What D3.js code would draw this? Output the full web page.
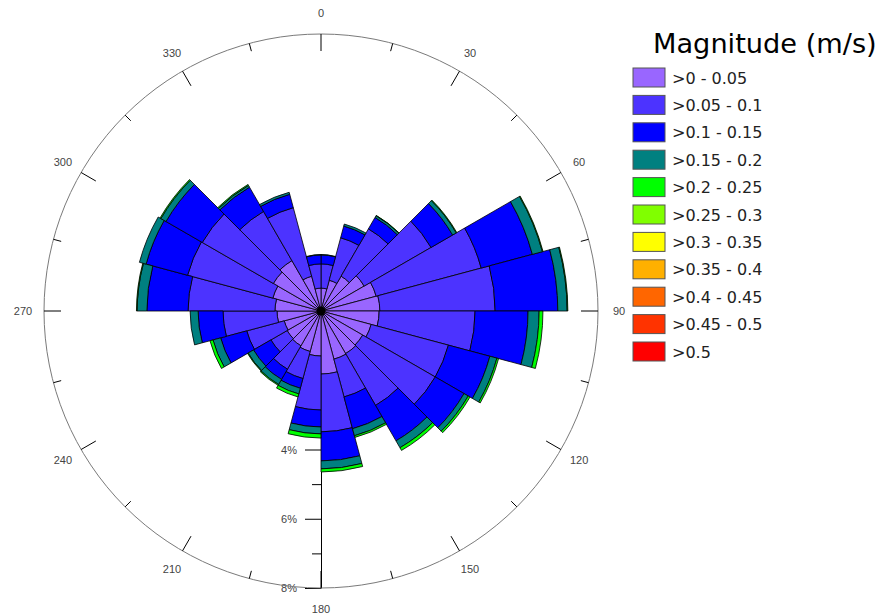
<!DOCTYPE html>
<html>
<head>
<meta charset="utf-8">
<script src="https://cdn.jsdelivr.net/npm/d3@7"></script>
<style>
  body { margin: 0; background: #fff; }
  svg text { font-family: "Liberation Sans", Arial, sans-serif; }
</style>
</head>
<body>
<svg id="rose"></svg>
<script>
// sector start angles (deg clockwise from north), each sector 15 deg wide
const directions = [0, 15, 30, 45, 60, 75, 90, 105, 120, 135, 150, 165,
                    180, 195, 210, 225, 240, 255, 270, 285, 300, 315, 330, 345];

// frequency (%) per magnitude class and direction
const bin1 = [0.66, 0.92, 1.16, 1.44, 1.65, 1.70, 1.68, 1.50, 1.39, 1.42, 1.44, 1.82,
              1.30, 1.21, 1.16, 1.13, 1.10, 1.27, 1.33, 1.44, 1.59, 1.68, 1.04, 0.66];
const bin2 = [0.70, 1.27, 1.58, 2.23, 3.14, 3.33, 2.77, 2.31, 2.42, 1.73, 1.13, 1.67,
              1.56, 0.81, 0.78, 0.54, 1.12, 1.56, 2.51, 2.55, 2.37, 1.64, 2.05, 0.70];
const bin3 = [0.26, 0.35, 0.38, 0.72, 1.53, 1.81, 1.53, 1.24, 0.96, 1.18, 0.95, 0.84,
              0.49, 0.29, 0.34, 0.58, 0.78, 0.72, 1.19, 1.24, 1.21, 0.81, 0.40, 0.26];
const bin4 = [0.01, 0.06, 0.06, 0.12, 0.30, 0.27, 0.32, 0.21, 0.14, 0.23, 0.21, 0.23,
              0.20, 0.17, 0.17, 0.18, 0.23, 0.23, 0.28, 0.20, 0.17, 0.06, 0.06, 0.01];
const bin5 = [0, 0, 0.01, 0.02, 0.02, 0.02, 0.11, 0.05, 0.06, 0.09, 0.05, 0.09,
              0.12, 0.09, 0.03, 0.02, 0.09, 0, 0.02, 0, 0.03, 0.03, 0, 0];
const bin6 = [0, 0, 0, 0, 0, 0, 0, 0, 0, 0, 0, 0, 0, 0, 0, 0, 0, 0, 0, 0, 0, 0, 0, 0];
const bin7 = [0, 0, 0, 0, 0, 0, 0, 0, 0, 0, 0, 0, 0, 0, 0, 0, 0, 0, 0, 0, 0, 0, 0, 0];
const bin8 = [0, 0, 0, 0, 0, 0, 0, 0, 0, 0, 0, 0, 0, 0, 0, 0, 0, 0, 0, 0, 0, 0, 0, 0];
const bin9 = [0, 0, 0, 0, 0, 0, 0, 0, 0, 0, 0, 0, 0, 0, 0, 0, 0, 0, 0, 0, 0, 0, 0, 0];
const bin10 = [0, 0, 0, 0, 0, 0, 0, 0, 0, 0, 0, 0, 0, 0, 0, 0, 0, 0, 0, 0, 0, 0, 0, 0];
const bin11 = [0, 0, 0, 0, 0, 0, 0, 0, 0, 0, 0, 0, 0, 0, 0, 0, 0, 0, 0, 0, 0, 0, 0, 0];

const binLabels = ['>0 - 0.05', '>0.05 - 0.1', '>0.1 - 0.15', '>0.15 - 0.2', '>0.2 - 0.25',
                   '>0.25 - 0.3', '>0.3 - 0.35', '>0.35 - 0.4', '>0.4 - 0.45', '>0.45 - 0.5', '>0.5'];
const binColors = ['#9966ff', '#4c33ff', '#0000ff', '#008080', '#00ff00',
                   '#80ff00', '#ffff00', '#ffb000', '#ff6600', '#ff3300', '#ff0000'];

const angleTicks  = [0, 15, 30, 45, 60, 75, 90, 105, 120, 135, 150, 165,
                     180, 195, 210, 225, 240, 255, 270, 285, 300, 315, 330, 345];
const angleLabels = [0, 30, 60, 90, 120, 150, 180, 210, 240, 270, 300, 330];
const pctTicks    = [1, 2, 3, 4, 5, 6, 7, 8];
const pctLabels   = [2, 4, 6, 8];

const w = 888, h = 616;
const cx = 321, cy = 311, R = 277;
const bins = [bin1, bin2, bin3, bin4, bin5, bin6, bin7, bin8, bin9, bin10, bin11];

let svg = d3.select('#rose').attr('width', w).attr('height', h);
svg.append('rect').attr('width', w).attr('height', h).attr('fill', '#fff');

let rScale = d3.scaleLinear().domain([0, 8]).range([0, R]);
const rad = d => d * Math.PI / 180;

let rose = svg.append('g').attr('transform', `translate(${cx},${cy})`);

// radial % axis along 180, drawn under the bars
let rAxis = rose.append('g')
  .attr('class', 'r-axis')
  .call(d3.axisLeft(rScale).tickValues(pctTicks).tickSizeOuter(0)
    .tickFormat(d => pctLabels.includes(d) ? d + '%' : ''));
rAxis.select('.domain').attr('stroke', '#000');
rAxis.selectAll('.tick line')
  .attr('stroke', '#000')
  .attr('x2', d => pctLabels.includes(d) ? -16 : -9);
rAxis.selectAll('.tick text')
  .attr('x', -24)
  .attr('fill', '#444')
  .style('font-size', '11px')
  .style('font-family', '"Liberation Sans", Arial, sans-serif');

// outer circle + angle ticks
rose.append('circle')
  .attr('r', R)
  .attr('fill', 'none')
  .attr('stroke', '#7a7a7a')
  .attr('stroke-width', 1);

rose.selectAll('.a-tick')
  .data(angleTicks)
  .enter().append('line')
  .attr('class', 'a-tick')
  .attr('x1', d => R * Math.sin(rad(d)))
  .attr('y1', d => -R * Math.cos(rad(d)))
  .attr('x2', d => (R - (d % 30 === 0 ? 17 : 8)) * Math.sin(rad(d)))
  .attr('y2', d => -(R - (d % 30 === 0 ? 17 : 8)) * Math.cos(rad(d)))
  .attr('stroke', '#000')
  .attr('stroke-width', 1);

rose.selectAll('.a-label')
  .data(angleLabels)
  .enter().append('text')
  .attr('class', 'a-label')
  .attr('x', d => 298 * Math.sin(rad(d)))
  .attr('y', d => -298 * Math.cos(rad(d)))
  .attr('text-anchor', 'middle')
  .attr('dominant-baseline', 'central')
  .attr('fill', '#444')
  .style('font-size', '11px')
  .text(d => d);

// stacked wedges
let rows = directions.map((dir, i) => {
  let o = {dir: dir};
  bins.forEach((b, j) => { o['b' + j] = b[i]; });
  return o;
});
let series = d3.stack().keys(bins.map((b, j) => 'b' + j))(rows);

let arc = d3.arc()
  .innerRadius(d => rScale(d[0]))
  .outerRadius(d => rScale(d[1]))
  .startAngle(d => rad(d.data.dir))
  .endAngle(d => rad(d.data.dir + 15));

series.forEach((s, j) => {
  rose.append('g')
    .selectAll('path')
    .data(s.filter(d => d[1] - d[0] > 0))
    .enter().append('path')
    .attr('d', arc)
    .attr('fill', binColors[j])
    .attr('stroke', '#000')
    .attr('stroke-width', 0.8)
    .attr('stroke-linejoin', 'miter');
});

rose.append('circle').attr('r', 4.5).attr('fill', '#000');

// legend
let legend = svg.append('g').attr('class', 'legend');

legend.append('text')
  .attr('x', 653)
  .attr('y', 53)
  .attr('fill', '#000')
  .style('font-family', '"DejaVu Sans", Verdana, sans-serif')
  .style('font-size', '27.2px')
  .text('Magnitude (m/s)');

let items = legend.selectAll('.item')
  .data(binLabels)
  .enter().append('g')
  .attr('class', 'item')
  .attr('transform', (d, i) => `translate(633, ${68 + i * 27.4})`);

items.append('rect')
  .attr('width', 32)
  .attr('height', 19)
  .attr('fill', (d, i) => binColors[i])
  .attr('stroke', '#555')
  .attr('stroke-width', 1);

items.append('text')
  .attr('x', 39)
  .attr('y', 15.5)
  .attr('fill', '#222')
  .style('font-family', '"DejaVu Sans", Verdana, sans-serif')
  .style('font-size', '16px')
  .text(d => d);
</script>
</body>
</html>
